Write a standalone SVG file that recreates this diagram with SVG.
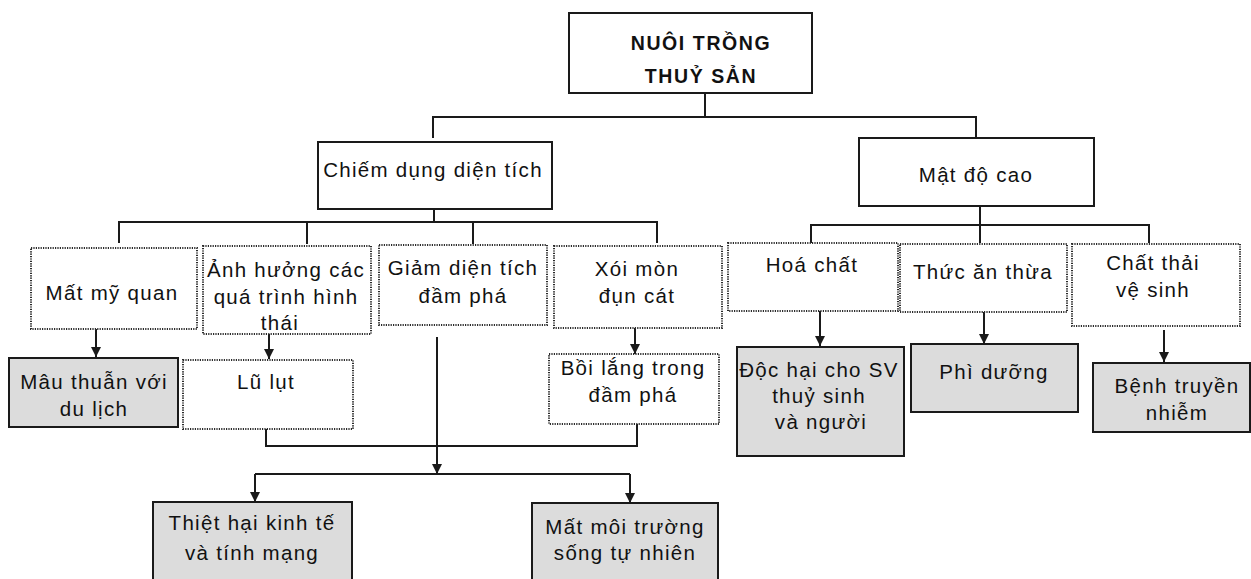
<svg xmlns="http://www.w3.org/2000/svg" width="1251" height="579" viewBox="0 0 1251 579">
  <style>
    .solid { fill: #ffffff; stroke: #1a1a1a; stroke-width: 2; }
    .shade { fill: #dcdcdc; stroke: #1a1a1a; stroke-width: 2; }
    .dot { fill: #ffffff; stroke: #2a2a2a; stroke-width: 2; stroke-dasharray: 1.2 1.2; }
    .lbl { font-family: "Liberation Sans", Arial, sans-serif; font-size: 20.5px; letter-spacing: 1.3px; fill: #111; text-anchor: middle; }
    .title { font-family: "Liberation Sans", Arial, sans-serif; font-size: 19.5px; font-weight: bold; letter-spacing: 1.6px; fill: #111; text-anchor: middle; }
    .wire { fill: none; stroke: #1a1a1a; stroke-width: 2; }
  </style>
  <defs>
    <marker id="arrow" viewBox="0 0 10 10" refX="10" refY="5" markerWidth="5" markerHeight="5" orient="auto" markerUnits="strokeWidth">
      <path d="M0 0 L10 5 L0 10 Z" fill="#1a1a1a"/>
    </marker>
  </defs>
  <rect width="1251" height="579" fill="#ffffff"/>

  <!-- connectors -->
  <g id="connectors">
    <path class="wire" d="M705 93 V117 H433 V138"/>
    <path class="wire" d="M705 117 H976 V138"/>
    <path class="wire" d="M434 209 V222"/>
    <path class="wire" d="M119 243 V222 H657 V243"/>
    <path class="wire" d="M307 222 V244"/>
    <path class="wire" d="M473 222 V244"/>
    <path class="wire" d="M980 206 V243"/>
    <path class="wire" d="M811 243 V225 H1149 V243"/>
    <path class="wire" d="M96 329 V357" marker-end="url(#arrow)"/>
    <path class="wire" d="M269 334 V359" marker-end="url(#arrow)"/>
    <path class="wire" d="M635 328 V354" marker-end="url(#arrow)"/>
    <path class="wire" d="M820 311 V346" marker-end="url(#arrow)"/>
    <path class="wire" d="M984 312 V344" marker-end="url(#arrow)"/>
    <path class="wire" d="M1164 330 V362" marker-end="url(#arrow)"/>
    <path class="wire" d="M266 429 V446 H637 V424"/>
    <path class="wire" d="M437 337 V474" marker-end="url(#arrow)"/>
    <path class="wire" d="M255 474 H630"/>
    <path class="wire" d="M255 474 V502" marker-end="url(#arrow)"/>
    <path class="wire" d="M630 474 V503" marker-end="url(#arrow)"/>
  </g>

  <!-- root -->
  <g id="nuoi-trong-thuy-san">
    <rect class="solid" x="569" y="13" width="243" height="80"/>
    <text class="title" x="701" y="50">NUÔI TRỒNG</text>
    <text class="title" x="701" y="83">THUỶ SẢN</text>
  </g>

  <!-- second level -->
  <g id="chiem-dung-dien-tich">
    <rect class="solid" x="318" y="142" width="234" height="67"/>
    <text class="lbl" x="433" y="177">Chiếm dụng diện tích</text>
  </g>
  <g id="mat-do-cao">
    <rect class="solid" x="859" y="138" width="235" height="68"/>
    <text class="lbl" x="976" y="182">Mật độ cao</text>
  </g>

  <!-- third level -->
  <g id="mat-my-quan">
    <rect class="dot" x="31" y="248" width="166" height="81"/>
    <text class="lbl" x="112" y="300">Mất mỹ quan</text>
  </g>
  <g id="anh-huong">
    <rect class="dot" x="203" y="246" width="168" height="88"/>
    <text class="lbl" x="286" y="277">Ảnh hưởng các</text>
    <text class="lbl" x="286" y="304">quá trình hình</text>
    <text class="lbl" x="280" y="330">thái</text>
  </g>
  <g id="giam-dien-tich">
    <rect class="dot" x="379" y="245" width="168" height="80"/>
    <text class="lbl" x="463" y="275">Giảm diện tích</text>
    <text class="lbl" x="463" y="303">đầm phá</text>
  </g>
  <g id="xoi-mon">
    <rect class="dot" x="554" y="246" width="168" height="82"/>
    <text class="lbl" x="637" y="276">Xói mòn</text>
    <text class="lbl" x="637" y="303">đụn cát</text>
  </g>
  <g id="hoa-chat">
    <rect class="dot" x="728" y="243" width="170" height="68"/>
    <text class="lbl" x="812" y="272">Hoá chất</text>
  </g>
  <g id="thuc-an-thua">
    <rect class="dot" x="900" y="244" width="167" height="68"/>
    <text class="lbl" x="983" y="279">Thức ăn thừa</text>
  </g>
  <g id="chat-thai">
    <rect class="dot" x="1072" y="244" width="168" height="82"/>
    <text class="lbl" x="1153" y="270">Chất thải</text>
    <text class="lbl" x="1153" y="297">vệ sinh</text>
  </g>

  <!-- fourth level -->
  <g id="mau-thuan">
    <rect class="shade" x="9" y="358" width="169" height="69"/>
    <text class="lbl" x="94" y="389">Mâu thuẫn với</text>
    <text class="lbl" x="94" y="416">du lịch</text>
  </g>
  <g id="lu-lut">
    <rect class="dot" x="183" y="360" width="170" height="69"/>
    <text class="lbl" x="266" y="389">Lũ lụt</text>
  </g>
  <g id="boi-lang">
    <rect class="dot" x="549" y="354" width="170" height="70"/>
    <text class="lbl" x="633" y="375">Bồi lắng trong</text>
    <text class="lbl" x="633" y="402">đầm phá</text>
  </g>
  <g id="doc-hai">
    <rect class="shade" x="737" y="347" width="167" height="109"/>
    <text class="lbl" x="819" y="377">Độc hại cho SV</text>
    <text class="lbl" x="819" y="403">thuỷ sinh</text>
    <text class="lbl" x="821" y="429">và người</text>
  </g>
  <g id="phi-duong">
    <rect class="shade" x="911" y="344" width="167" height="68"/>
    <text class="lbl" x="994" y="379">Phì dưỡng</text>
  </g>
  <g id="benh-truyen-nhiem">
    <rect class="shade" x="1093" y="363" width="157" height="69"/>
    <text class="lbl" x="1177" y="393">Bệnh truyền</text>
    <text class="lbl" x="1177" y="420">nhiễm</text>
  </g>

  <!-- outcomes -->
  <g id="thiet-hai">
    <rect class="shade" x="153" y="502" width="199" height="90"/>
    <text class="lbl" x="252" y="530">Thiệt hại kinh tế</text>
    <text class="lbl" x="252" y="560">và tính mạng</text>
  </g>
  <g id="mat-moi-truong">
    <rect class="shade" x="532" y="503" width="186" height="90"/>
    <text class="lbl" x="625" y="534">Mất môi trường</text>
    <text class="lbl" x="625" y="560">sống tự nhiên</text>
  </g>
</svg>
